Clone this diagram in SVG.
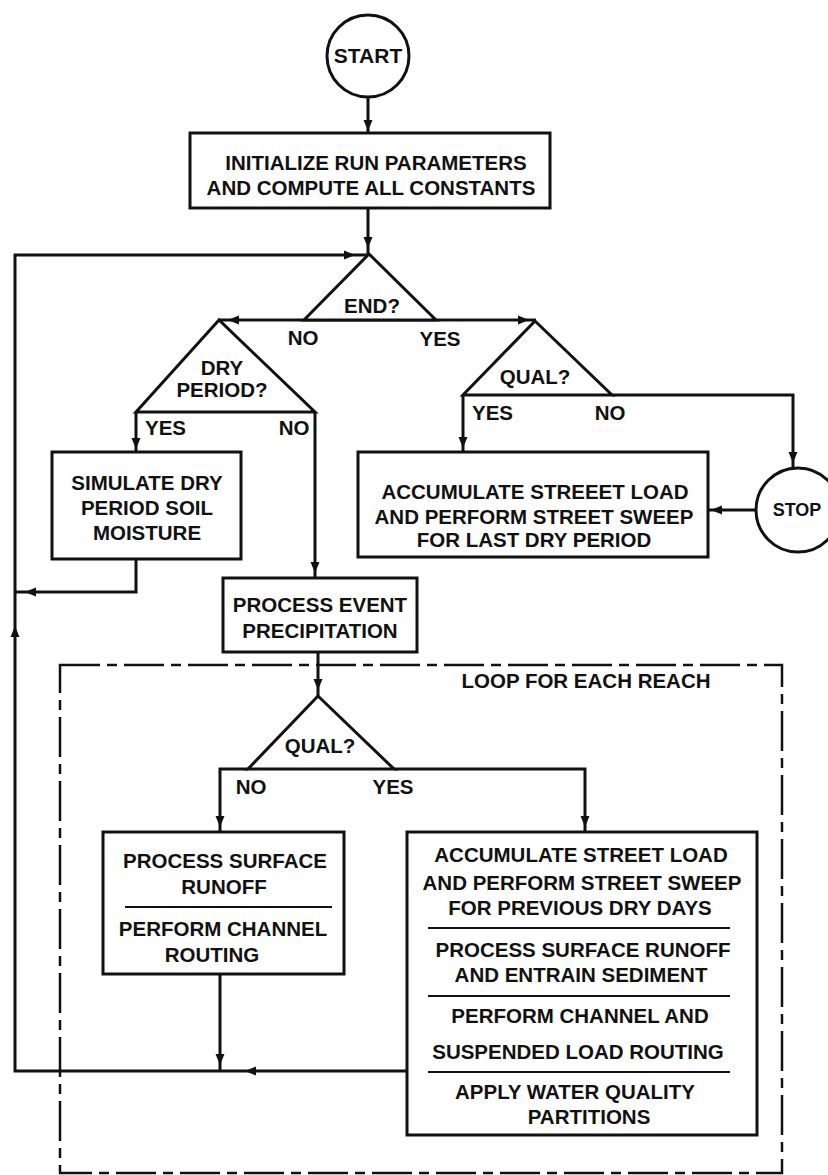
<svg xmlns="http://www.w3.org/2000/svg" width="828" height="1175" viewBox="0 0 828 1175">
  <style>
    .shape { fill: #fff; stroke: #111; stroke-width: 3; }
    .wire { fill: none; stroke: #111; stroke-width: 3; stroke-linejoin: miter; }
    .rule { stroke: #111; stroke-width: 2; }
    .frame { fill: none; stroke: #111; stroke-width: 2.5; stroke-dasharray: 40 7 10 7; }
    text { font-family: "Liberation Sans", Arial, sans-serif; font-weight: bold; font-size: 20.5px; fill: #111; }
    .mid { text-anchor: middle; }
    .head { fill: #111; }
  </style>
  <defs>
    <!-- arrowhead pointing along +x, tip at origin -->
    <path id="ah" class="head" d="M0,0 L-11,-4.5 L-11,4.5 Z"/>
  </defs>

  <rect width="828" height="1175" fill="#fff"/>

  <!-- loop boundary -->
  <g id="loop-frame">
    <rect class="frame" x="60" y="665" width="722" height="508"/>
    <text class="mid" x="586" y="688">LOOP FOR EACH REACH</text>
  </g>

  <!-- connectors -->
  <g id="connectors">
    <path class="wire" d="M368,97 V133"/>
    <path class="wire" d="M368,208 V254"/>
    <path class="wire" d="M407,1071 H15 V255 H368"/>
    <path class="wire" d="M219,320 H536"/>
    <path class="wire" d="M136,412 V452"/>
    <path class="wire" d="M315,412 V578"/>
    <path class="wire" d="M136,559 V592 H15"/>
    <path class="wire" d="M463,395 V452"/>
    <path class="wire" d="M612,395 H793 V468"/>
    <path class="wire" d="M756,510 H708"/>
    <path class="wire" d="M318,652 V696"/>
    <path class="wire" d="M248,769 H220 V832"/>
    <path class="wire" d="M394,769 H585 V832"/>
    <path class="wire" d="M220,974 V1071"/>

    <use href="#ah" transform="translate(368,131) rotate(90)"/>
    <use href="#ah" transform="translate(368,248) rotate(90)"/>
    <use href="#ah" transform="translate(355,255)"/>
    <use href="#ah" transform="translate(15,626) rotate(-90)"/>
    <use href="#ah" transform="translate(228,320) rotate(180)"/>
    <use href="#ah" transform="translate(529,320)"/>
    <use href="#ah" transform="translate(136,449) rotate(90)"/>
    <use href="#ah" transform="translate(315,573) rotate(90)"/>
    <use href="#ah" transform="translate(25,592) rotate(180)"/>
    <use href="#ah" transform="translate(463,448) rotate(90)"/>
    <use href="#ah" transform="translate(793,463) rotate(90)"/>
    <use href="#ah" transform="translate(711,510) rotate(180)"/>
    <use href="#ah" transform="translate(318,690) rotate(90)"/>
    <use href="#ah" transform="translate(220,827) rotate(90)"/>
    <use href="#ah" transform="translate(585,827) rotate(90)"/>
    <use href="#ah" transform="translate(220,1065) rotate(90)"/>
    <use href="#ah" transform="translate(245,1071) rotate(180)"/>
  </g>

  <!-- edge labels -->
  <g id="labels">
    <text class="mid" x="303" y="345">NO</text>
    <text class="mid" x="440" y="346">YES</text>
    <text x="145" y="435">YES</text>
    <text class="mid" x="294" y="435">NO</text>
    <text x="472" y="420">YES</text>
    <text class="mid" x="610" y="420">NO</text>
    <text class="mid" x="251" y="794">NO</text>
    <text class="mid" x="393" y="794">YES</text>
  </g>

  <g id="start">
    <circle class="shape" cx="368" cy="56" r="41"/>
    <text class="mid" x="368" y="63" style="font-size:21px">START</text>
  </g>

  <g id="initialize">
    <rect class="shape" x="190" y="133" width="360" height="75"/>
    <text class="mid" x="376" y="170">INITIALIZE RUN PARAMETERS</text>
    <text class="mid" x="371" y="195">AND COMPUTE ALL CONSTANTS</text>
  </g>

  <g id="end-test">
    <polygon class="shape" points="369,254 304,320 436,320"/>
    <text class="mid" x="372" y="313">END?</text>
  </g>

  <g id="dry-test">
    <polygon class="shape" points="219,320 136,412 315,412"/>
    <text class="mid" x="222" y="375">DRY</text>
    <text class="mid" x="222" y="397">PERIOD?</text>
  </g>

  <g id="simulate-dry">
    <rect class="shape" x="52" y="452" width="189" height="107"/>
    <text class="mid" x="147" y="490">SIMULATE DRY</text>
    <text class="mid" x="147" y="515">PERIOD SOIL</text>
    <text class="mid" x="147" y="540">MOISTURE</text>
  </g>

  <g id="qual-end">
    <polygon class="shape" points="535,321 463,395 612,395"/>
    <text class="mid" x="535" y="384">QUAL?</text>
  </g>

  <g id="last-sweep">
    <rect class="shape" x="358" y="452" width="350" height="105"/>
    <text class="mid" x="535" y="499">ACCUMULATE STREEET LOAD</text>
    <text class="mid" x="534" y="524">AND PERFORM STREET SWEEP</text>
    <text class="mid" x="534" y="547">FOR LAST DRY PERIOD</text>
  </g>

  <g id="stop">
    <circle class="shape" cx="798" cy="510" r="42"/>
    <text class="mid" x="797" y="516" style="font-size:18px">STOP</text>
  </g>

  <g id="event-precip">
    <rect class="shape" x="223" y="578" width="194" height="74"/>
    <text class="mid" x="320" y="612">PROCESS EVENT</text>
    <text class="mid" x="320" y="638">PRECIPITATION</text>
  </g>

  <g id="qual-reach">
    <polygon class="shape" points="318,696 248,769 394,769"/>
    <text class="mid" x="320" y="753">QUAL?</text>
  </g>

  <g id="runoff-routing">
    <rect class="shape" x="103" y="832" width="241" height="142"/>
    <text class="mid" x="225" y="868">PROCESS SURFACE</text>
    <text class="mid" x="224" y="894">RUNOFF</text>
    <line class="rule" x1="125" y1="907" x2="332" y2="907"/>
    <text class="mid" x="223" y="936">PERFORM CHANNEL</text>
    <text class="mid" x="212" y="962">ROUTING</text>
  </g>

  <g id="quality-steps">
    <rect class="shape" x="407" y="832" width="350" height="303"/>
    <text class="mid" x="581" y="862">ACCUMULATE STREET LOAD</text>
    <text class="mid" x="582" y="890">AND PERFORM STREET SWEEP</text>
    <text class="mid" x="580" y="915">FOR PREVIOUS DRY DAYS</text>
    <line class="rule" x1="428" y1="928" x2="730" y2="928"/>
    <text class="mid" x="583" y="957">PROCESS SURFACE RUNOFF</text>
    <text class="mid" x="581" y="982">AND ENTRAIN SEDIMENT</text>
    <line class="rule" x1="428" y1="996" x2="730" y2="996"/>
    <text class="mid" x="580" y="1023">PERFORM CHANNEL AND</text>
    <text class="mid" x="578" y="1059">SUSPENDED LOAD ROUTING</text>
    <line class="rule" x1="428" y1="1072" x2="730" y2="1072"/>
    <text class="mid" x="575" y="1099">APPLY WATER QUALITY</text>
    <text class="mid" x="589" y="1124">PARTITIONS</text>
  </g>
</svg>
